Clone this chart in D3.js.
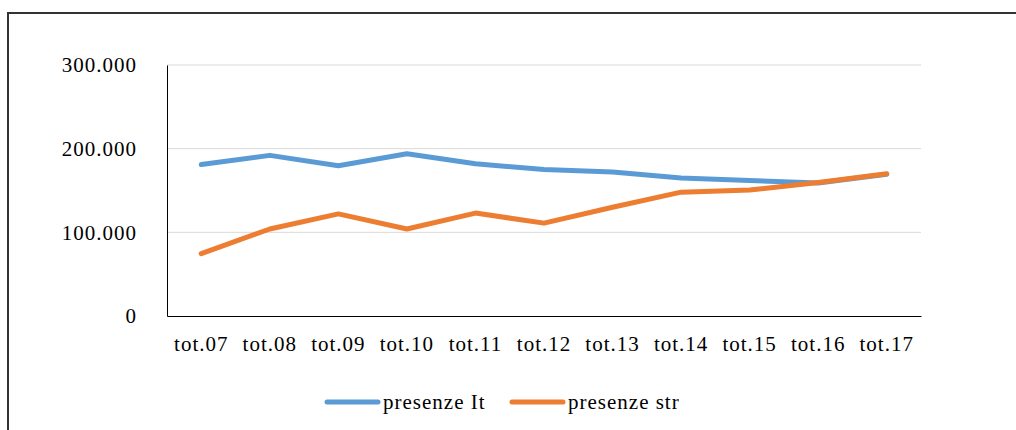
<!DOCTYPE html>
<html>
<head>
<meta charset="utf-8">
<script src="https://cdn.jsdelivr.net/npm/d3@7"></script>
<style>
  html, body { margin: 0; padding: 0; background: #fff; }
  svg { display: block; }
  text { font-family: "Liberation Serif", "Times New Roman", serif; fill: #000; }
</style>
</head>
<body>
<svg id="chart" width="1016" height="430"></svg>
<script>
const categories = ["tot.07","tot.08","tot.09","tot.10","tot.11","tot.12","tot.13","tot.14","tot.15","tot.16","tot.17"];
const presenzeIt  = [181000, 192000, 179500, 194000, 182000, 175000, 172000, 165000, 162000, 159000, 169500];
const presenzeStr = [ 74500, 104000, 122000, 104000, 123000, 111000, 130000, 148000, 150500, 159500, 170000];
const seriesNames = ["presenze It", "presenze str"];
const seriesColors = ["#5B9BD5", "#ED7D31"];
const yTicks = [0, 100000, 200000, 300000];
const yTickLabels = ["0", "100.000", "200.000", "300.000"];

const svg = d3.select("#chart");
const W = 1016, H = 430;
const plot = { left: 167, right: 921, top: 65, bottom: 316 };

// outer border
svg.append("path")
  .attr("d", `M8,${H} L8,13 L${W},13`)
  .attr("fill", "none").attr("stroke", "#333").attr("stroke-width", 2);

const x = d3.scaleBand().domain(categories).range([plot.left, plot.right]).paddingInner(0).paddingOuter(0);
const y = d3.scaleLinear().domain([0, 300000]).range([plot.bottom, plot.top]);

// gridlines
svg.append("g").selectAll("line").data(yTicks.filter(d => d > 0)).join("line")
  .attr("x1", plot.left).attr("x2", plot.right)
  .attr("y1", d => y(d)).attr("y2", d => y(d))
  .attr("stroke", "#d9d9d9").attr("stroke-width", 1);

// y axis
const yAxis = d3.axisLeft(y).tickValues(yTicks).tickSize(0).tickPadding(30)
  .tickFormat((d, i) => yTickLabels[i]);
const gy = svg.append("g").attr("transform", `translate(${plot.left},0)`).call(yAxis);
gy.select(".domain").attr("stroke", "#000").attr("stroke-width", 1);
gy.selectAll("text").attr("font-family", "Liberation Serif, serif").attr("font-size", 21)
  .attr("letter-spacing", "1px").attr("fill", "#000").attr("dy", "0.33em");

// x axis
const xAxis = d3.axisBottom(x).tickSize(0).tickPadding(20);
const gx = svg.append("g").attr("transform", `translate(0,${plot.bottom})`).call(xAxis);
gx.select(".domain").attr("stroke", "#000").attr("stroke-width", 1);
gx.selectAll("text").attr("font-family", "Liberation Serif, serif").attr("font-size", 21)
  .attr("letter-spacing", "1px").attr("fill", "#000").attr("dy", "0.71em");

// lines
const line = d3.line()
  .x((d, i) => x(categories[i]) + x.bandwidth() / 2)
  .y(d => y(d));
[presenzeIt, presenzeStr].forEach((s, k) => {
  svg.append("path").datum(s)
    .attr("d", line)
    .attr("fill", "none")
    .attr("stroke", seriesColors[k])
    .attr("stroke-width", 5)
    .attr("stroke-linejoin", "round")
    .attr("stroke-linecap", "round");
});

// legend
const legendItems = [{x: 325}, {x: 510}];
const lg = svg.append("g");
seriesNames.forEach((name, k) => {
  const lx = legendItems[k].x;
  lg.append("line").attr("x1", lx + 2).attr("x2", lx + 53).attr("y1", 402).attr("y2", 402)
    .attr("stroke", seriesColors[k]).attr("stroke-width", 5).attr("stroke-linecap", "round");
  lg.append("text").attr("x", lx + 58).attr("y", 409)
    .attr("font-size", 21).attr("letter-spacing", "1px").text(name);
});
</script>
</body>
</html>
